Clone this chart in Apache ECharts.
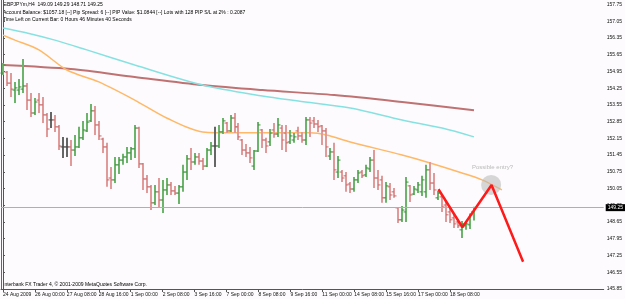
<!DOCTYPE html>
<html>
<head>
<meta charset="utf-8">
<script src="https://cdn.jsdelivr.net/npm/echarts@6/dist/echarts.min.js"></script>
<style>
  html, body { margin: 0; padding: 0; background: #fdfbfd; }
  #chart { width: 625px; height: 299px; }
</style>
</head>
<body>
<div id="chart"></div>
<script>
// GBPJPYm H4, 24 Aug - 18 Sep 2009
const symbol = 'GBPJPYm,H4'
const xTickLabels = ['24 Aug 2009', '26 Aug 00:00', '27 Aug 08:00', '28 Aug 16:00', '1 Sep 00:00',
  '2 Sep 08:00', '3 Sep 16:00', '7 Sep 00:00', '8 Sep 08:00', '9 Sep 16:00', '11 Sep 00:00',
  '14 Sep 08:00', '15 Sep 16:00', '17 Sep 00:00', '18 Sep 08:00']
const yTicks = [145.85, 146.55, 147.25, 147.95, 148.65, 149.35, 150.05, 150.75, 151.45,
  152.15, 152.85, 153.55, 154.25, 154.95, 155.65, 156.35, 157.05, 157.75]

const opens = [154.88, 154.92, 154.46, 154.17, 154.17, 154.21, 154.34, 153.75, 153.21, 153.75,
  153.55, 153.13, 152.92, 152.92, 152.63, 151.79, 151.79, 151.79, 151.66, 151.79,
  152.17, 152.46, 152.88, 153.30, 152.71, 152.12, 151.79, 150.49, 150.41, 151.04,
  151.24, 151.37, 151.54, 151.71, 152.58, 151.08, 150.45, 150.12, 149.45, 149.91,
  149.57, 149.99, 150.20, 149.95, 149.86, 150.12, 150.74, 151.29, 151.16, 151.37,
  151.20, 150.99, 151.66, 151.83, 151.83, 152.42, 152.79, 152.46, 153.00, 152.63,
  152.08, 151.66, 151.54, 150.99, 151.62, 152.50, 152.08, 152.00, 152.50, 152.33,
  152.58, 152.37, 152.00, 152.08, 152.46, 152.25, 152.08, 152.92, 152.88, 152.75,
  152.67, 152.46, 151.41, 151.58, 150.74, 150.74, 150.58, 150.24, 150.03, 150.41,
  150.74, 150.62, 150.87, 151.24, 150.49, 150.41, 149.66, 150.12, 149.91, 149.24,
  148.74, 149.07, 150.16, 149.82, 149.99, 149.91, 149.91, 150.83, 150.28, 149.66,
  149.70, 149.36, 149.07, 148.82, 148.65, 148.32, 148.49, 148.53, 149.09]
const highs = [155.30, 154.97, 154.88, 154.51, 154.63, 155.47, 154.46, 154.05, 153.84, 154.05,
  153.88, 153.21, 153.25, 153.13, 152.71, 152.21, 152.17, 152.08, 152.29, 152.63,
  152.88, 153.21, 153.59, 153.50, 152.88, 152.17, 151.96, 150.95, 151.37, 151.37,
  151.50, 151.79, 151.79, 152.71, 152.63, 151.12, 150.62, 150.20, 150.20, 150.49,
  150.41, 150.49, 150.32, 150.16, 150.20, 151.04, 151.45, 151.75, 151.54, 151.54,
  151.33, 151.75, 152.00, 152.63, 152.71, 153.00, 152.83, 153.13, 153.21, 152.79,
  152.12, 151.91, 151.79, 151.66, 152.83, 152.54, 152.17, 152.54, 152.79, 153.00,
  152.71, 152.71, 152.50, 152.37, 152.63, 152.42, 153.04, 153.04, 153.04, 152.92,
  152.71, 152.58, 151.75, 151.96, 151.41, 150.83, 150.74, 150.32, 150.53, 150.83,
  150.83, 151.04, 151.37, 151.66, 150.83, 150.58, 150.32, 150.28, 150.07, 149.28,
  149.32, 150.53, 150.20, 150.16, 150.32, 150.58, 151.04, 151.16, 150.70, 149.95,
  149.74, 149.57, 149.24, 148.99, 148.78, 148.69, 148.65, 149.00, 149.29]
const lows = [154.80, 154.34, 153.88, 153.63, 153.96, 154.05, 153.34, 153.04, 153.13, 153.21,
  152.79, 152.21, 152.58, 152.42, 151.66, 151.33, 151.37, 150.99, 151.41, 151.75,
  152.08, 152.42, 152.83, 152.29, 152.08, 151.54, 150.12, 150.03, 150.28, 150.66,
  151.04, 151.12, 151.24, 151.33, 150.91, 149.99, 149.86, 149.15, 149.36, 149.28,
  149.03, 149.78, 149.78, 149.78, 149.40, 149.91, 150.41, 150.83, 151.04, 151.04,
  150.83, 150.95, 151.45, 150.95, 151.75, 152.33, 152.37, 152.42, 152.37, 152.08,
  151.45, 151.37, 151.12, 150.83, 151.58, 151.75, 151.54, 151.83, 152.17, 152.21,
  151.66, 151.58, 151.91, 151.96, 152.08, 151.96, 151.87, 152.21, 152.58, 152.42,
  151.87, 151.37, 151.24, 150.41, 150.49, 150.32, 149.91, 149.86, 149.91, 150.28,
  150.49, 150.53, 150.74, 150.07, 149.99, 149.45, 149.45, 149.57, 149.66, 148.61,
  148.65, 148.65, 149.49, 149.78, 149.86, 149.74, 149.66, 149.99, 149.78, 149.57,
  149.07, 148.65, 148.61, 148.40, 148.40, 147.98, 148.32, 148.36, 148.71]
const closes = [155.22, 154.46, 154.21, 154.26, 154.30, 154.34, 153.75, 153.21, 153.67, 153.55,
  153.13, 152.54, 152.92, 152.63, 151.83, 151.79, 151.79, 151.66, 151.79, 152.17,
  152.50, 152.83, 153.30, 152.71, 152.25, 151.79, 150.41, 150.41, 151.04, 151.24,
  151.37, 151.54, 151.71, 152.58, 151.08, 150.45, 150.12, 149.45, 149.91, 149.57,
  149.99, 150.20, 149.95, 149.86, 150.12, 150.74, 151.29, 151.16, 151.37, 151.20,
  150.99, 151.66, 151.83, 151.83, 152.42, 152.88, 152.46, 153.00, 152.63, 152.21,
  151.66, 151.54, 151.33, 151.62, 152.71, 152.08, 151.83, 152.37, 152.33, 152.71,
  152.08, 151.96, 152.25, 152.21, 152.25, 152.08, 152.92, 152.79, 152.75, 152.63,
  152.46, 151.79, 151.58, 150.83, 151.24, 150.49, 150.20, 150.03, 150.41, 150.70,
  150.58, 150.91, 151.24, 150.49, 150.20, 149.66, 150.16, 149.78, 149.74, 148.74,
  149.15, 150.32, 149.78, 150.03, 150.20, 150.41, 150.83, 150.28, 149.99, 149.86,
  149.28, 148.95, 148.74, 148.57, 148.49, 148.57, 148.57, 148.95, 149.25]

// moving averages as [bar index, price]
const maSlow = [[0, 155.22], [17, 155.05], [33, 154.72], [50, 154.38], [65, 154.17], [83, 153.96],
  [100, 153.67], [118, 153.33]]
const maMid = [[0, 156.77], [6, 156.56], [13, 156.26], [21, 155.85], [33, 155.22], [50, 154.38],
  [65, 153.92], [74, 153.71], [87, 153.42], [100, 152.92], [110, 152.58], [118, 152.21]]
const maFast = [[0, 156.47], [3, 156.26], [9, 155.85], [16, 155.01], [24, 154.51], [33, 153.75],
  [41, 153.0], [50, 152.42], [58, 152.38], [77, 152.38], [81, 152.29], [87, 152.0],
  [100, 151.45], [107, 151.12], [115, 150.70], [120, 150.41], [125, 149.99]]

// hand-drawn zigzag, marker circle and note
const zigzag = [[109.1, 150.02], [115.1, 148.43], [122.4, 150.20], [130.3, 146.99]]
const entryCircle = [[122.3, 150.2]]
const note = [[117.5, 150.95]]

const slots = 151
const yMin = 145.846, yMax = 157.938
const bull = '#6cb46c', bear = '#e09a9a', doji = '#666666'
const font = 'Liberation Sans'

const chart = echarts.init(document.getElementById('chart'), null, { renderer: 'canvas' })

const bars = opens.map((o, i) => [i, o, highs[i], lows[i], closes[i]])
const last = bars.length - 1

function renderBar(params, api) {
  const i = api.value(0)
  const o = api.value(1), h = api.value(2), l = api.value(3), c = api.value(4)
  const top = api.coord([i, h]), bot = api.coord([i, l])
  const yo = api.coord([i, o])[1], yc = api.coord([i, c])[1]
  const col = c > o ? bull : c < o ? bear : doji
  const tick = c > o ? '#3f8f3f' : c < o ? '#c46a6a' : '#444'
  const x = Math.round(top[0])
  return {
    type: 'group',
    children: [
      { type: 'line', shape: { x1: x, y1: top[1], x2: x, y2: bot[1] }, style: { stroke: col, lineWidth: 2 } },
      { type: 'line', shape: { x1: x - 2.5, y1: yo, x2: x, y2: yo }, style: { stroke: tick, lineWidth: 1 } },
      { type: 'line', shape: { x1: x, y1: yc, x2: x + 2.5, y2: yc }, style: { stroke: tick, lineWidth: 1 } }
    ]
  }
}

const header = [
  symbol + '  ' + [opens[last], highs[last], lows[last], closes[last]].map(v => v.toFixed(2)).join(' '),
  'Account Balance: $1057.18 [--] Pip Spread: 6 [--] PIP Value: $1.0844 [--] Lots with 128 PIP S/L at 2% : 0.2087',
  'Time Left on Current Bar: 0 Hours 46 Minutes 40 Seconds'
]

chart.setOption({
  animation: false,
  backgroundColor: '#fdfbfd',
  grid: { left: 0, right: 21, top: 0, bottom: 10 },
  xAxis: {
    type: 'value', min: -0.5, max: slots - 0.5,
    axisLine: { show: true, onZero: false, lineStyle: { color: '#555', width: 1 } },
    axisTick: { show: true, length: 3, lineStyle: { color: '#555' }, customValues: xTickLabels.map((t, k) => k * 8) },
    axisLabel: {
      customValues: xTickLabels.map((t, k) => k * 8),
      formatter: v => xTickLabels[Math.round(v / 8)],
      align: 'left', margin: 3, fontSize: 5, fontFamily: font, color: '#111'
    },
    splitLine: { show: false }
  },
  yAxis: [{
    type: 'value', position: 'right', min: yMin, max: yMax,
    axisLine: { show: true, lineStyle: { color: '#555', width: 1 } },
    axisTick: { show: true, length: 2, lineStyle: { color: '#555' }, customValues: yTicks },
    axisLabel: { customValues: yTicks, formatter: v => v.toFixed(2), margin: 3, fontSize: 5, fontFamily: font, color: '#111' },
    splitLine: { show: false }
  }, {
    type: 'value', position: 'left', min: yMin, max: yMax,
    axisLine: { show: true, lineStyle: { color: '#666', width: 1 } },
    axisTick: { show: false }, axisLabel: { show: false }, splitLine: { show: false }
  }],
  graphic: [
    ...header.map((t, k) => ({
      type: 'text', left: 3, top: 2 + k * 7.8, silent: true,
      style: { text: t, fontSize: 5, fontFamily: font, fill: '#000' }
    })),
    {
      type: 'text', left: 3, top: 282, silent: true,
      style: { text: 'Interbank FX Trader 4, \u00a9 2001-2009 MetaQuotes Software Corp.', fontSize: 5, fontFamily: font, fill: '#000' }
    }
  ],
  series: [
    {
      type: 'line', data: maSlow, smooth: 0.3, symbol: 'none', z: 2,
      lineStyle: { color: '#bf7272', width: 2 }
    },
    {
      type: 'line', data: maMid, smooth: 0.3, symbol: 'none', z: 2,
      lineStyle: { color: '#86e2e2', width: 1.5 }
    },
    {
      type: 'line', data: maFast, smooth: 0.3, symbol: 'none', z: 2,
      lineStyle: { color: '#ffb866', width: 1.5 }
    },
    {
      type: 'custom', data: bars, renderItem: renderBar, z: 3,
      encode: { x: 0, y: [1, 2, 3, 4] },
      markLine: {
        silent: true, symbol: 'none',
        lineStyle: { color: '#a9afc2', width: 1, type: 'solid' },
        label: {
          position: 'end', distance: 2, formatter: () => closes[last].toFixed(2),
          backgroundColor: '#000', color: '#fff', fontSize: 5, fontFamily: font, padding: [1, 2, 1, 2]
        },
        data: [{ yAxis: closes[last] }]
      }
    },
    {
      type: 'scatter', data: entryCircle, symbolSize: 20, z: 4,
      itemStyle: { color: 'rgba(185,185,185,0.7)' }
    },
    {
      type: 'line', data: zigzag, symbol: 'none', z: 5,
      lineStyle: { color: '#ff1a1a', width: 2.5 }
    },
    {
      type: 'scatter', data: note, symbolSize: 0, z: 5,
      label: { show: true, position: 'right', distance: 0, formatter: 'Possible entry?', color: '#aaaaaa', fontSize: 6, fontFamily: font }
    }
  ]
})
</script>
</body>
</html>
